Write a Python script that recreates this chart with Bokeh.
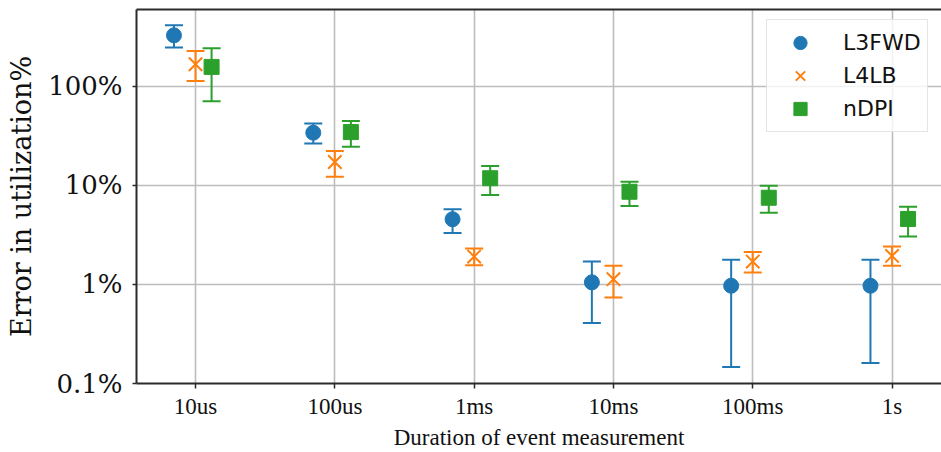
import numpy as np
from bokeh.plotting import figure
from bokeh.models import (ColumnDataSource, Whisker, TeeHead, Range1d, FixedTicker,
                          LinearAxis, Legend, LegendItem)
from bokeh.embed import file_html
from bokeh.resources import INLINE

# ---------------- data (percent) ----------------
categories = ["10us", "100us", "1ms", "10ms", "100ms", "1s"]

l3fwd_val = [327, 34.0, 4.55, 1.05, 0.97, 0.97]
l3fwd_hi = [413, 42.0, 5.73, 1.70, 1.78, 1.78]
l3fwd_lo = [246, 26.4, 3.31, 0.408, 0.147, 0.161]

l4lb_val = [167, 17.2, 1.91, 1.13, 1.70, 1.94]
l4lb_hi = [227, 22.2, 2.30, 1.54, 2.12, 2.41]
l4lb_lo = [113, 12.2, 1.56, 0.738, 1.32, 1.54]

ndpi_val = [157, 34.5, 11.8, 8.62, 7.5, 4.58]
ndpi_hi = [242, 44.6, 15.7, 10.9, 9.9, 6.09]
ndpi_lo = [70.5, 24.6, 8.0, 6.19, 5.3, 3.04]

y_ticks = [0.1, 1, 10, 100]
y_tick_labels = ["0.1%", "1%", "10%", "100%"]

# ---------------- styling ----------------
BLUE, ORANGE, GREEN = "#1f77b4", "#ff7f0e", "#2ca02c"
SERIF = "DejaVu Serif"
XSERIF = "Liberation Serif"
SPINE = "#2b2b2b"
GRID = "#bdbdbd"

p = figure(width=941, height=452, y_axis_type="log",
           x_range=Range1d(-0.424, 5.355), y_range=Range1d(0.1, 596),
           output_backend="svg", toolbar_location=None,
           min_border_left=136, min_border_right=0, min_border_top=9, min_border_bottom=68)
p.outline_line_color = None
p.background_fill_color = "white"

cat_idx = np.arange(len(categories))

# x axis
p.xaxis.ticker = FixedTicker(ticks=list(cat_idx))
p.xaxis.major_label_overrides = {int(i): c for i, c in zip(cat_idx, categories)}
p.xaxis.minor_tick_line_color = None
p.xaxis.major_tick_out = 5
p.xaxis.major_tick_in = 0
p.xaxis.major_label_standoff = 5
p.xaxis.major_label_text_font = XSERIF
p.xaxis.major_label_text_font_size = "23px"
p.xaxis.major_label_text_color = "#111111"
p.xaxis.axis_label = "Duration of event measurement"
p.xaxis.axis_label_text_font = XSERIF
p.xaxis.axis_label_text_font_size = "23px"
p.xaxis.axis_label_text_font_style = "normal"
p.xaxis.axis_label_text_color = "#111111"
p.xaxis.axis_label_standoff = 3

# y axis
p.yaxis.ticker = FixedTicker(ticks=y_ticks)
p.yaxis.major_label_overrides = {t: l for t, l in zip(y_ticks, y_tick_labels)}
p.yaxis.minor_tick_line_color = None
p.yaxis.major_tick_out = 4
p.yaxis.major_tick_in = 0
p.yaxis.major_label_standoff = 10
p.yaxis.major_label_text_font = SERIF
p.yaxis.major_label_text_font_size = "26px"
p.yaxis.major_label_text_color = "#111111"
p.yaxis.axis_label = "Error in utilization%"
p.yaxis.axis_label_text_font = SERIF
p.yaxis.axis_label_text_font_size = "27px"
p.yaxis.axis_label_text_font_style = "normal"
p.yaxis.axis_label_text_color = "#111111"
p.yaxis.axis_label_standoff = 8

for ax in (p.xaxis, p.yaxis):
    ax.axis_line_color = SPINE
    ax.axis_line_width = 2
    ax.major_tick_line_color = SPINE
    ax.major_tick_line_width = 1.5

# top spine
top = LinearAxis(ticker=FixedTicker(ticks=[]), major_label_text_font_size="0px",
                 major_tick_out=0, major_tick_in=0, minor_tick_out=0, minor_tick_in=0,
                 major_label_standoff=0, axis_line_color=SPINE, axis_line_width=2)
p.add_layout(top, "above")

# grid
p.xgrid.ticker = FixedTicker(ticks=list(cat_idx))
p.ygrid.ticker = FixedTicker(ticks=y_ticks)
for g in (p.xgrid, p.ygrid):
    g.grid_line_color = GRID
    g.grid_line_width = 1.6
p.ygrid.minor_grid_line_color = None

# dodge offsets of the three series within a category
offsets = {"L3FWD": -0.155, "L4LB": 0.0, "nDPI": 0.115}

series = [
    ("L3FWD", l3fwd_val, l3fwd_lo, l3fwd_hi, BLUE, "circle", 15),
    ("L4LB", l4lb_val, l4lb_lo, l4lb_hi, ORANGE, "x", 19),
    ("nDPI", ndpi_val, ndpi_lo, ndpi_hi, GREEN, "square", 15),
]

items = []
for name, val, lo, hi, col, marker, size in series:
    src = ColumnDataSource(dict(x=cat_idx + offsets[name], y=val, lower=lo, upper=hi))
    w = Whisker(source=src, base="x", lower="lower", upper="upper", dimension="height",
                line_color=col, line_width=2,
                upper_head=TeeHead(size=18, line_color=col, line_width=2),
                lower_head=TeeHead(size=18, line_color=col, line_width=2),
                level="glyph")
    p.add_layout(w)
    if marker == "x":
        r = p.scatter("x", "y", source=src, marker=marker, size=size,
                      line_color=col, line_width=2)
    else:
        r = p.scatter("x", "y", source=src, marker=marker, size=size,
                      fill_color=col, line_color=col, line_width=1)
    items.append(LegendItem(label=name, renderers=[r]))

legend = Legend(items=items, location=(630, 251), padding=6, spacing=0,
                glyph_width=54, glyph_height=33, label_standoff=16, margin=0,
                label_text_font="DejaVu Sans", label_text_font_size="22px",
                label_text_color="#111111",
                border_line_color="#cccccc", border_line_width=1.5,
                background_fill_color="white", background_fill_alpha=0.8)
p.add_layout(legend)

open("out.html", "w").write(file_html(p, INLINE))
